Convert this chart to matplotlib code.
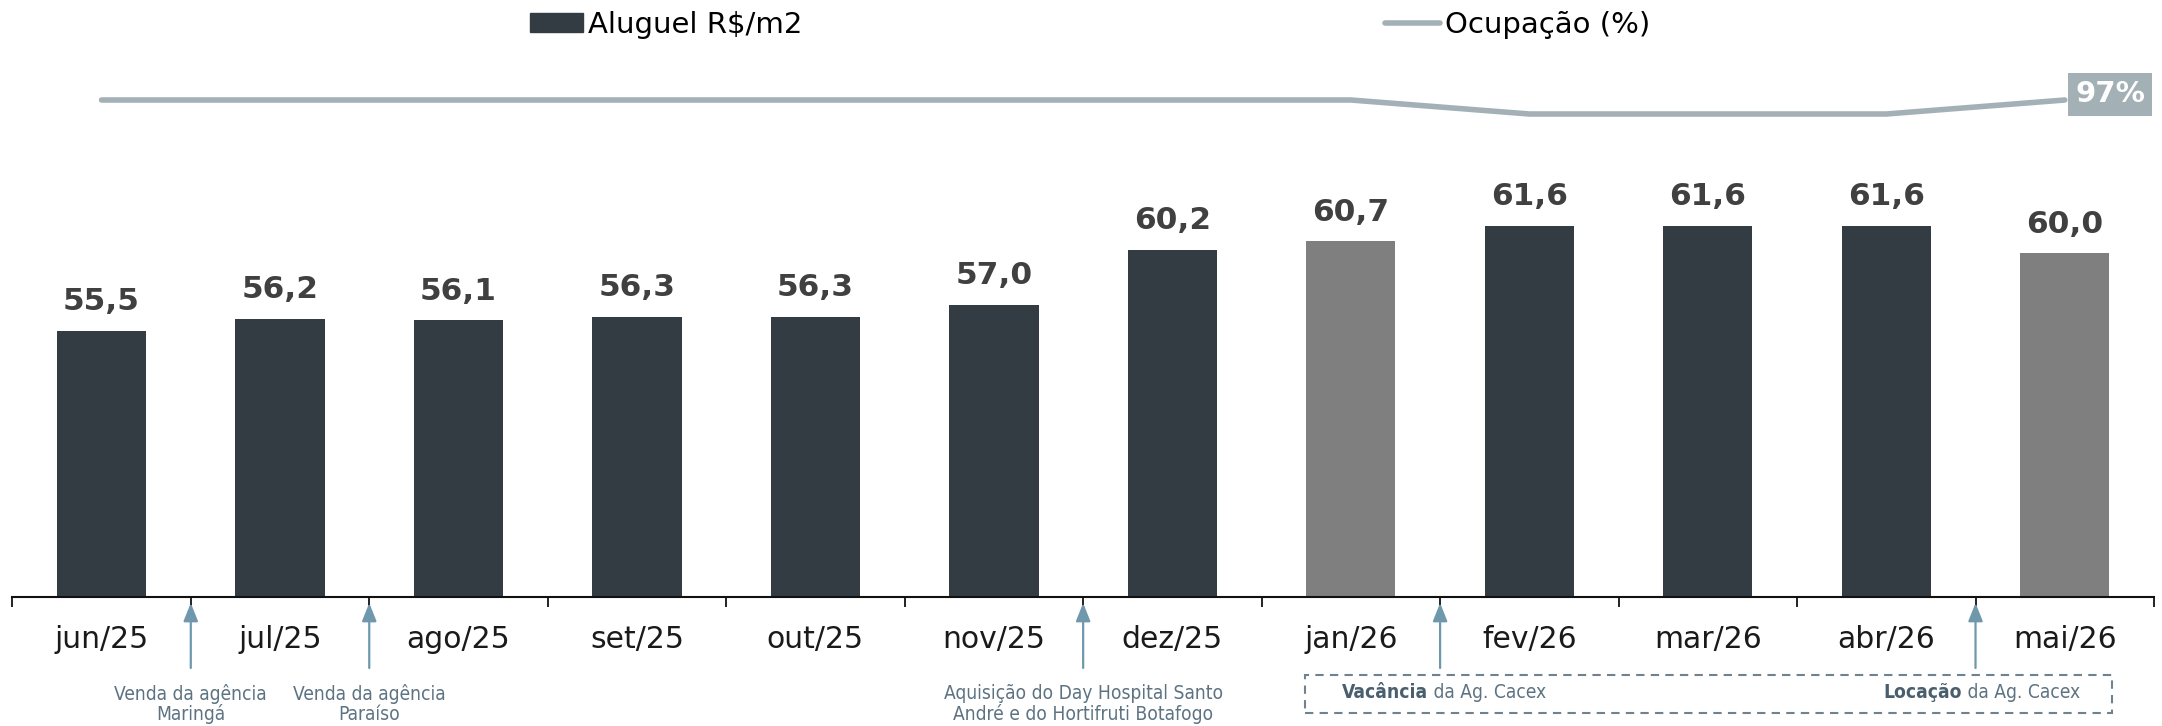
import matplotlib.pyplot as plt
from matplotlib import transforms
from matplotlib.patches import Rectangle, Patch
from matplotlib.lines import Line2D

meses = ["jun/25", "jul/25", "ago/25", "set/25", "out/25", "nov/25",
         "dez/25", "jan/26", "fev/26", "mar/26", "abr/26", "mai/26"]
aluguel = [55.5, 56.2, 56.1, 56.3, 56.3, 57.0, 60.2, 60.7, 61.6, 61.6, 61.6, 60.0]
ocupacao = [97, 97, 97, 97, 97, 97, 97, 97, 96, 96, 96, 97]
destaque = ["jan/26", "mai/26"]

# eventos entre meses (posicao da seta, texto)
eventos_pos = [0.5, 1.5, 5.5]
eventos_txt = ["Venda da agência\nMaringá", "Venda da agência\nParaíso",
               "Aquisição do Day Hospital Santo\nAndré e do Hortifruti Botafogo"]
cacex_pos = [7.5, 10.5]
cacex_bold = ["Vacância", "Locação"]

COR_BARRA = "#323c42"
COR_DEST = "#7f7f7f"
COR_LINHA = "#a3b1b6"
COR_SETA = "#6f98ad"
COR_NOTA = "#5d7382"

W, H = 2162, 726
fig = plt.figure(figsize=(W / 100, H / 100), dpi=100)
ax = fig.add_axes([12.3 / W, 1 - 597 / H, (2154 - 12.3) / W, 597 / H])

x = list(range(len(meses)))
cores = [COR_DEST if m in destaque else COR_BARRA for m in meses]
ax.bar(x, aluguel, width=0.5, color=cores, zorder=2)
ax.set_xlim(-0.5, len(meses) - 0.5)
ax.set_ylim(40, 40 + 597 / 17.18)

for xi, v in zip(x, aluguel):
    ax.annotate(f"{v:.1f}".replace(".", ","), (xi, v), xytext=(0, 21),
                textcoords="offset points", ha="center", va="center",
                fontsize=22.5, fontweight="bold", color="#404040")

for s in ["top", "left", "right"]:
    ax.spines[s].set_visible(False)
ax.spines["bottom"].set_linewidth(1.5)
ax.spines["bottom"].set_color("#111111")
ax.set_yticks([])
ax.set_xticks(x)
ax.set_xticklabels(meses, fontsize=21.5, color="#1a1a1a")
ax.tick_params(axis="x", which="major", length=0, pad=20)
ax.set_xticks([i - 0.5 for i in range(len(meses) + 1)], minor=True)
ax.tick_params(axis="x", which="minor", length=7.5, width=1.3, color="#111111")

# ocupacao no eixo secundario
ax2 = ax.twinx()
ax2.plot(x, ocupacao, color=COR_LINHA, lw=4, solid_capstyle="round", zorder=3)
lo = 97 - 497 / 14
ax2.set_ylim(lo, lo + 597 / 14)
ax2.axis("off")
ax2.annotate(f"{ocupacao[-1]}%", (x[-1], ocupacao[-1]), xytext=(7.5, 4),
             textcoords="offset points", ha="left", va="center",
             fontsize=21, fontweight="bold", color="white",
             bbox=dict(boxstyle="square,pad=0.25", fc=COR_LINHA, ec="none"))

# anotacoes abaixo do eixo
blend = transforms.blended_transform_factory(ax.transData, fig.transFigure)
def fy(px):
    return 1 - px / H

for p in eventos_pos + cacex_pos:
    ax.annotate("", xy=(p, fy(603)), xytext=(p, fy(668)),
                xycoords=blend, textcoords=blend, annotation_clip=False,
                arrowprops=dict(arrowstyle="-|>,head_length=0.55,head_width=0.22",
                                color=COR_SETA, lw=1.6, mutation_scale=20,
                                shrinkA=0, shrinkB=0))

nota = dict(fontsize=13.8, family="DejaVu Sans", fontstretch="condensed")
for p, t in zip(eventos_pos, eventos_txt):
    ax.text(p, fy(704), t, transform=blend, ha="center", va="center",
            color=COR_NOTA, linespacing=1.05, **nota)

x0 = (1304 - 12.3) / 178.4 - 0.5
x1 = (2111 - 12.3) / 178.4 - 0.5
ax.add_patch(Rectangle((x0, fy(713)), x1 - x0, fy(675) - fy(713),
                       transform=blend, fill=False, ec="#6f8290", lw=1.5,
                       ls=(0, (4, 3)), clip_on=False))

for xs, b in zip([(1341 - 12.3) / 178.4 - 0.5, (1883 - 12.3) / 178.4 - 0.5], cacex_bold):
    t1 = ax.text(xs, fy(693), b, transform=blend, ha="left", va="center",
                 fontweight="bold", color="#4a5f6e", **nota)
    ax.annotate(" da Ag. Cacex", xy=(1, 0.5), xycoords=t1, ha="left", va="center",
                color=COR_NOTA, **nota)

# legendas
h1 = Patch(color=COR_BARRA)
fig.legend([h1], ["Aluguel R$/m2"], loc="center left", bbox_to_anchor=(530 / W, fy(25)),
           frameon=False, fontsize=21, handlelength=1.8, handleheight=0.62,
           handletextpad=0.18, borderpad=0, borderaxespad=0)
h2 = Line2D([], [], color=COR_LINHA, lw=4, solid_capstyle="round")
fig.legend([h2], ["Ocupação (%)"], loc="center left", bbox_to_anchor=(1385 / W, fy(25)),
           frameon=False, fontsize=21, handlelength=1.9,
           handletextpad=0.15, borderpad=0, borderaxespad=0)

fig.savefig("out.png", dpi=100)
